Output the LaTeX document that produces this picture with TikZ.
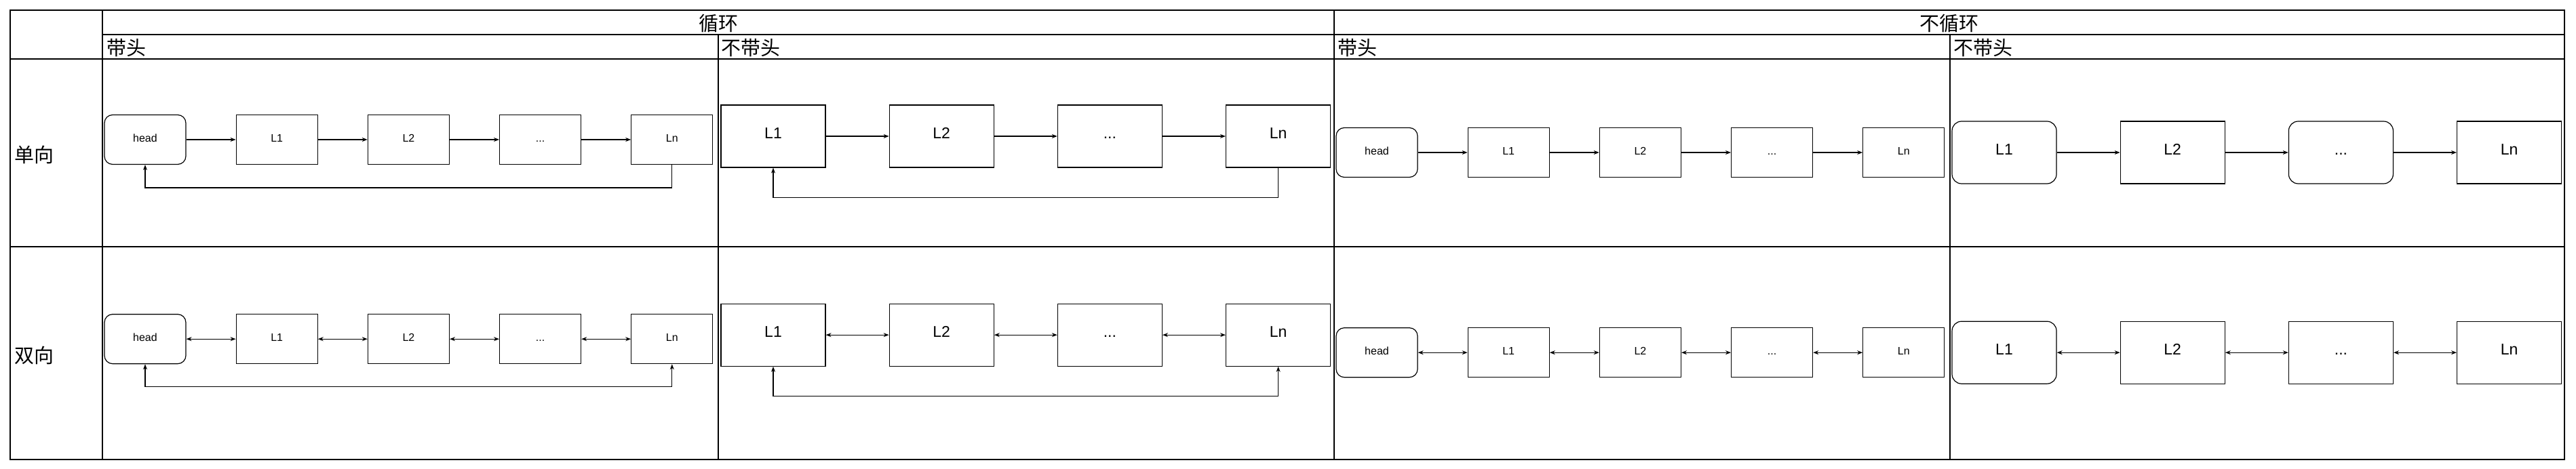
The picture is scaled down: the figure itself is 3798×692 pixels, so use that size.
\documentclass[tikz,border=0pt]{standalone}
\usepackage{fontspec}
\setmainfont{Liberation Sans}
\newfontfamily\cjk{Noto Sans CJK SC}
\usepackage{tikz}
\usetikzlibrary{arrows.meta, positioning}

\begin{document}
\begin{tikzpicture}[x=1pt, y=-1pt,
    >={Stealth[length=8pt,width=6pt]},
    tableline/.style={line width=1.5pt},
    tabletext/.style={rectangle, inner sep=0pt, font=\cjk\fontsize{29}{29}\selectfont},
    cell/.style={rectangle, draw, line width=1.2pt, inner sep=0pt,
        text height=0.72em, text depth=0pt,
        minimum width=120pt, minimum height=73pt, font=\fontsize{16}{16}\selectfont},
    headcell/.style={cell, rounded corners=12pt},
    bigcell/.style={cell, minimum width=154pt, minimum height=92pt, font=\fontsize{23}{23}\selectfont},
    bigheadcell/.style={bigcell, rounded corners=14pt},
    link/.style={line width=1.2pt}]

        \useasboundingbox (0,0) rectangle (3798,692);

        % table
        \draw[tableline] (15,15) rectangle (3781,678);
        \draw[tableline] (151,15) -- (151,678);
        \draw[tableline] (1967,15) -- (1967,678);
        \draw[tableline] (1059,51) -- (1059,678);
        \draw[tableline] (2875,51) -- (2875,678);
        \draw[tableline] (151,51) -- (3781,51);
        \draw[tableline] (15,87) -- (3781,87);
        \draw[tableline] (15,364) -- (3781,364);

        \node[tabletext] (loop) at (1059,35) {循环};
        \node[tabletext] (noloop) at (2874,35) {不循环};
        \node[tabletext, anchor=west] (loop_head) at (157,71) {带头};
        \node[tabletext, anchor=west] (loop_nohead) at (1063,71) {不带头};
        \node[tabletext, anchor=west] (noloop_head) at (1972,71) {带头};
        \node[tabletext, anchor=west] (noloop_nohead) at (2880,71) {不带头};
        \node[tabletext, anchor=west] (single) at (21,228) {单向};
        \node[tabletext, anchor=west] (double) at (21,524) {双向};

        % loop, with head
        \node[headcell] (sa_0) at (214,206) {head};
        \node[cell] (sa_1) [right=73pt of sa_0] {L1};
        \node[cell] (sa_2) [right=73pt of sa_1] {L2};
        \node[cell] (sa_3) [right=73pt of sa_2] {...};
        \node[cell] (sa_4) [right=73pt of sa_3] {Ln};

        \node[headcell] (da_0) [below=220pt of sa_0] {head};
        \node[cell] (da_1) [right=73pt of da_0] {L1};
        \node[cell] (da_2) [right=73pt of da_1] {L2};
        \node[cell] (da_3) [right=73pt of da_2] {...};
        \node[cell] (da_4) [right=73pt of da_3] {Ln};

        % loop, without head
        \node[bigcell] (sb_1) at (1140,201) {L1};
        \node[bigcell] (sb_2) [right=93pt of sb_1] {L2};
        \node[bigcell] (sb_3) [right=93pt of sb_2] {...};
        \node[bigcell] (sb_4) [right=93pt of sb_3] {Ln};

        \node[bigcell] (db_1) [below=200pt of sb_1] {L1};
        \node[bigcell] (db_2) [right=93pt of db_1] {L2};
        \node[bigcell] (db_3) [right=93pt of db_2] {...};
        \node[bigcell] (db_4) [right=93pt of db_3] {Ln};

        % no loop, with head
        \node[headcell] (sc_0) at (2030,225) {head};
        \node[cell] (sc_1) [right=73pt of sc_0] {L1};
        \node[cell] (sc_2) [right=73pt of sc_1] {L2};
        \node[cell] (sc_3) [right=73pt of sc_2] {...};
        \node[cell] (sc_4) [right=73pt of sc_3] {Ln};

        \node[headcell] (dc_0) [below=221pt of sc_0] {head};
        \node[cell] (dc_1) [right=73pt of dc_0] {L1};
        \node[cell] (dc_2) [right=73pt of dc_1] {L2};
        \node[cell] (dc_3) [right=73pt of dc_2] {...};
        \node[cell] (dc_4) [right=73pt of dc_3] {Ln};

        % no loop, without head
        \node[bigheadcell] (sd_1) at (2955,225) {L1};
        \node[bigcell] (sd_2) [right=93pt of sd_1] {L2};
        \node[bigheadcell] (sd_3) [right=93pt of sd_2] {...};
        \node[bigcell] (sd_4) [right=93pt of sd_3] {Ln};

        \node[bigheadcell] (dd_1) [below=202pt of sd_1] {L1};
        \node[bigcell] (dd_2) [right=93pt of dd_1] {L2};
        \node[bigcell] (dd_3) [right=93pt of dd_2] {...};
        \node[bigcell] (dd_4) [right=93pt of dd_3] {Ln};

        \draw[link, ->] (sa_0) -- (sa_1);
        \draw[link, ->] (sa_1) -- (sa_2);
        \draw[link, ->] (sa_2) -- (sa_3);
        \draw[link, ->] (sa_3) -- (sa_4);
        \draw[link, ->] (sa_4.south) -- ++(0,34) -| (sa_0.south);

        \draw[link, <->] (da_0) -- (da_1);
        \draw[link, <->] (da_1) -- (da_2);
        \draw[link, <->] (da_2) -- (da_3);
        \draw[link, <->] (da_3) -- (da_4);
        \draw[link, <->] (da_4.south) -- ++(0,33) -| (da_0.south);

        \draw[link, ->] (sb_1) -- (sb_2);
        \draw[link, ->] (sb_2) -- (sb_3);
        \draw[link, ->] (sb_3) -- (sb_4);
        \draw[link, ->] (sb_4.south) -- ++(0,44) -| (sb_1.south);

        \draw[link, <->] (db_1) -- (db_2);
        \draw[link, <->] (db_2) -- (db_3);
        \draw[link, <->] (db_3) -- (db_4);
        \draw[link, <->] (db_4.south) -- ++(0,44) -| (db_1.south);

        \draw[link, ->] (sc_0) -- (sc_1);
        \draw[link, ->] (sc_1) -- (sc_2);
        \draw[link, ->] (sc_2) -- (sc_3);
        \draw[link, ->] (sc_3) -- (sc_4);

        \draw[link, <->] (dc_0) -- (dc_1);
        \draw[link, <->] (dc_1) -- (dc_2);
        \draw[link, <->] (dc_2) -- (dc_3);
        \draw[link, <->] (dc_3) -- (dc_4);

        \draw[link, ->] (sd_1) -- (sd_2);
        \draw[link, ->] (sd_2) -- (sd_3);
        \draw[link, ->] (sd_3) -- (sd_4);

        \draw[link, <->] (dd_1) -- (dd_2);
        \draw[link, <->] (dd_2) -- (dd_3);
        \draw[link, <->] (dd_3) -- (dd_4);

    \end{tikzpicture}
\end{document}
